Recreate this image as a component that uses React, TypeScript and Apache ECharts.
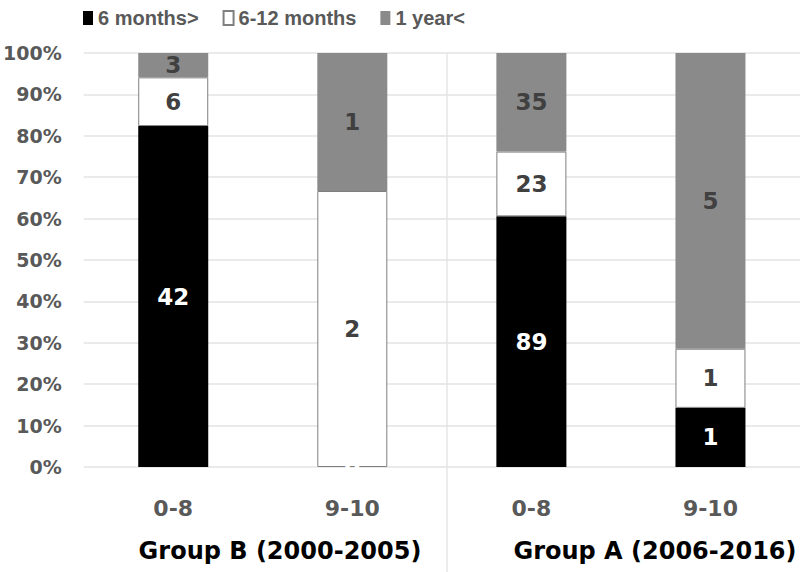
import React, { useEffect, useRef } from "react";
import * as echarts from "echarts";

const categories = ["0-8", "9-10", "0-8", "9-10"];
const groupLabels = ["Group B (2000-2005)", "Group A (2006-2016)"];
const seriesNames = ["6 months>", "6-12 months", "1 year<"];
const under6 = [42, 0, 89, 1];
const sixTo12 = [6, 2, 23, 1];
const overYear = [3, 1, 35, 5];
const yTicks = [0, 10, 20, 30, 40, 50, 60, 70, 80, 90, 100];

export default function App() {
  const ref = useRef<HTMLDivElement>(null);
  useEffect(() => {
    if (!ref.current) return;
    const chart = echarts.init(ref.current, null, { renderer: "svg" });
    const totals = categories.map((_, i) => under6[i] + sixTo12[i] + overYear[i]);
    const pct = (arr: number[]) => arr.map((v, i) => ({ value: (v / totals[i]) * 100, count: v }));
    const font = "DejaVu Sans";
    const mk = (name: string, arr: number[], color: string, labelColor: string, border: string) => ({
      name,
      type: "bar",
      stack: "s",
      barWidth: 70,
      data: pct(arr),
      itemStyle: { color, borderColor: border, borderWidth: border === "none" ? 0 : 1 },
      label: {
        show: true,
        position: "inside",
        color: labelColor,
        fontFamily: font,
        fontWeight: "bold",
        fontSize: 23,
        formatter: (p: any) => String(p.data.count),
      },
    });
    chart.setOption({
      animation: false,
      grid: { left: 82, right: 0, top: 53, bottom: 105 },
      legend: {
        left: 78,
        top: 3,
        itemWidth: 10,
        itemHeight: 14,
        itemGap: 24,
        textStyle: { fontFamily: "'Liberation Sans Narrow', 'Liberation Sans'", fontWeight: "bold", fontSize: 20, color: "#595959" },
        data: seriesNames.map((n) => ({ name: n, icon: "rect" })),
      },
      xAxis: {
        type: "category",
        data: categories,
        axisLine: { show: false },
        axisTick: { show: false },
        axisLabel: { margin: 30, fontFamily: font, fontWeight: "bold", fontSize: 22, color: "#595959" },
      },
      yAxis: {
        type: "value",
        min: 0,
        max: 100,
        interval: 10,
        axisLine: { show: false },
        axisTick: { show: false },
        splitLine: { lineStyle: { color: "#e3e3e3", width: 1.5 } },
        axisLabel: {
          margin: 22,
          fontFamily: font,
          fontWeight: "bold",
          fontSize: 19,
          color: "#595959",
          formatter: (v: number) => (yTicks.includes(v) ? v + "%" : ""),
        },
      },
      graphic: [
        { type: "line", shape: { x1: 447, y1: 53, x2: 447, y2: 572 }, style: { stroke: "#d9d9d9", lineWidth: 1 } },
        { type: "text", x: 280, y: 551, style: { text: groupLabels[0], fill: "#000", font: `bold 24px "${font}"`, align: "center", verticalAlign: "middle" } },
        { type: "text", x: 655, y: 551, style: { text: groupLabels[1], fill: "#000", font: `bold 24px "${font}"`, align: "center", verticalAlign: "middle" } },
      ],
      series: [
        mk(seriesNames[0], under6, "#000000", "#ffffff", "none"),
        mk(seriesNames[1], sixTo12, "#ffffff", "#404040", "#7f7f7f"),
        mk(seriesNames[2], overYear, "#8a8a8a", "#404040", "none"),
      ],
    });
    return () => chart.dispose();
  }, []);
  return <div ref={ref} style={{ width: 800, height: 572, position: "absolute", left: 0, top: 0 }} />;
}
